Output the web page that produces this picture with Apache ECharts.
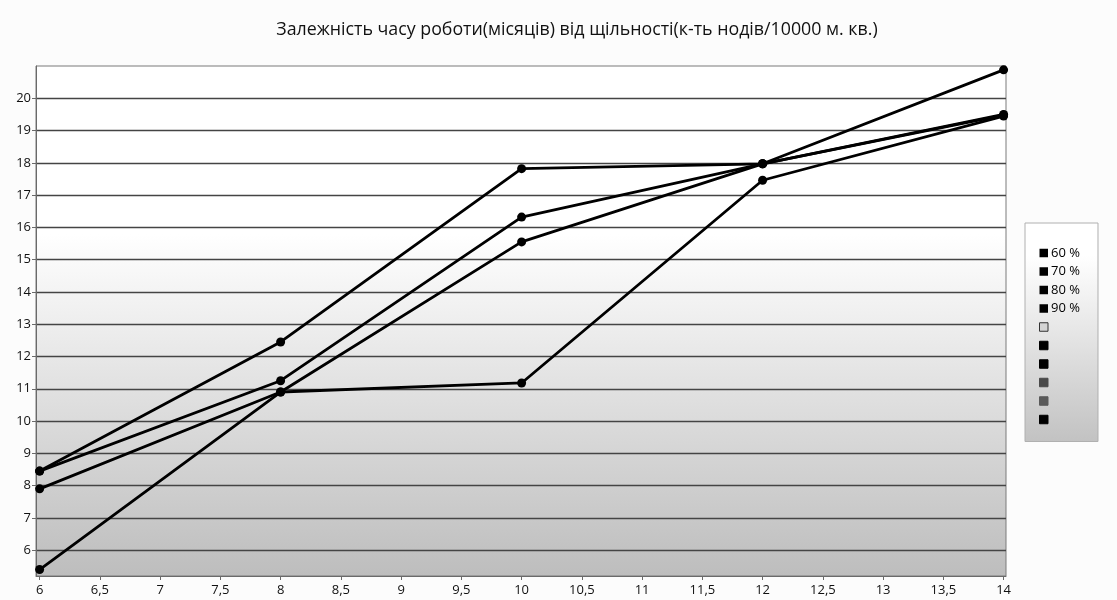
<!DOCTYPE html>
<html><head><meta charset="utf-8">
<script src="https://cdn.jsdelivr.net/npm/echarts@6/dist/echarts.min.js"></script>
<style>html,body{margin:0;padding:0;background:#fcfcfc}#c{width:1117px;height:600px}</style>
</head><body><div id="c"></div>
<script>
const titleText = 'Залежність часу роботи(місяців) від щільності(к-ть нодів/10000 м. кв.)';
const xValues = [6, 8, 10, 12, 14];
const s60 = [8.45, 12.45, 17.82, 17.97, 20.88];
const s70 = [8.45, 11.25, 16.32, 17.97, 19.5];
const s80 = [7.9, 10.9, 15.55, 17.97, 19.48];
const s90 = [5.4, 10.9, 11.18, 17.46, 19.45];
const seriesNames = ['60 %', '70 %', '80 %', '90 %'];
const extraLegend = ['\u200b1', '\u200b2', '\u200b3', '\u200b4', '\u200b5', '\u200b6'];
const extraColors = ['#d4d4d4', '#000000', '#000000', '#4a4a4a', '#5a5a5a', '#000000'];
const yTicks = [6, 7, 8, 9, 10, 11, 12, 13, 14, 15, 16, 17, 18, 19, 20];
const xTicks = [6, 6.5, 7, 7.5, 8, 8.5, 9, 9.5, 10, 10.5, 11, 11.5, 12, 12.5, 13, 13.5, 14];

const chart = echarts.init(document.getElementById('c'));
const fontFamily = '"Open Sans", "Noto Sans", sans-serif';
const allValues = [s60, s70, s80, s90];
const series = allValues.map((vals, i) => ({
  name: seriesNames[i],
  type: 'line',
  data: xValues.map((x, j) => [x, vals[j]]),
  symbol: 'circle',
  symbolSize: 9,
  lineStyle: { color: '#000', width: 2.8 },
  itemStyle: { color: '#000' },
  z: 5
}));
extraLegend.forEach((n) => series.push({ name: n, type: 'line', data: [] }));

const legendData = seriesNames.map(n => ({ name: n, itemStyle: { color: '#000' } }))
  .concat(extraLegend.map((n, i) => ({ name: n, itemStyle: { color: extraColors[i], borderColor: i === 0 ? '#333' : extraColors[i], borderWidth: 1 } })));

chart.setOption({
  backgroundColor: '#fcfcfc',
  animation: false,
  title: {
    text: titleText, left: 572, top: 16, textAlign: 'center',
    textStyle: { fontFamily, fontSize: 17.8, fontWeight: 'normal', color: '#111' }
  },
  legend: {
    orient: 'vertical', left: 1025, top: 223,
    data: legendData,
    icon: 'rect', itemWidth: 8.5, itemHeight: 8.5, itemGap: 4.5,
    padding: [23, 18, 15, 14],
    borderColor: '#b0b0b0', borderWidth: 1,
    backgroundColor: new echarts.graphic.LinearGradient(0, 0, 0, 1, [
      { offset: 0, color: '#ffffff' }, { offset: 0.15, color: '#ffffff' }, { offset: 1, color: '#c2c2c2' }]),
    formatter: (n) => seriesNames.indexOf(n) >= 0 ? n : ' ',
    textStyle: { fontFamily, fontSize: 13, lineHeight: 14, color: '#000', padding: [0, 0, 0, -2] },
    selectedMode: false
  },
  grid: {
    left: 36, right: 111, top: 66, bottom: 24,
    show: true, borderColor: '#7a7a7a', borderWidth: 1,
    backgroundColor: new echarts.graphic.LinearGradient(0, 0, 0, 1, [
      { offset: 0, color: '#ffffff' }, { offset: 0.33, color: '#ffffff' }, { offset: 1, color: '#bdbdbd' }])
  },
  xAxis: {
    type: 'value', min: 5.97, max: 14.02,
    axisLine: { show: true, lineStyle: { color: '#6a6a6a' } },
    axisTick: { show: true, customValues: xTicks, length: 4, lineStyle: { color: '#6a6a6a' } },
    axisLabel: { customValues: xTicks, fontFamily, fontSize: 13, color: '#111', margin: 8,
      formatter: v => String(v).replace('.', ',') },
    splitLine: { show: false }
  },
  yAxis: {
    type: 'value', min: 5.2, max: 21,
    axisLine: { show: true, lineStyle: { color: '#6a6a6a' } },
    axisTick: { show: true, customValues: yTicks, length: 4, lineStyle: { color: '#6a6a6a' } },
    axisLabel: { customValues: yTicks, fontFamily, fontSize: 13, color: '#111', margin: 5 },
    splitLine: { show: true, lineStyle: { color: '#444', width: 1.4 } }
  },
  series
});
</script></body></html>
